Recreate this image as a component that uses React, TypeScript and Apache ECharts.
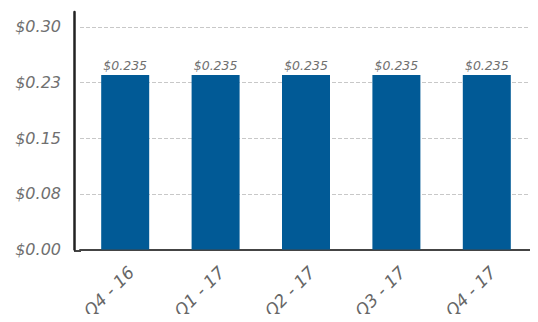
import React, { useEffect, useRef } from "react";
import * as echarts from "echarts";

const categories = ["Q4 - 16", "Q1 - 17", "Q2 - 17", "Q3 - 17", "Q4 - 17"];
const dividends = [0.235, 0.235, 0.235, 0.235, 0.235];
const yTickLabels = ["$0.00", "$0.08", "$0.15", "$0.23", "$0.30"];
const yInterval = 0.075;
const yMax = 0.32;

const FONT = "'DejaVu Sans', sans-serif";

export default function App() {
  const ref = useRef<HTMLDivElement>(null);
  useEffect(() => {
    if (!ref.current) return;
    const chart = echarts.init(ref.current, null, { renderer: "svg" });
    chart.setOption({
      animation: false,
      backgroundColor: "#ffffff",
      grid: { left: 80, right: 6, top: 12, bottom: 71 },
      xAxis: {
        type: "category",
        data: categories,
        axisLine: { show: true, lineStyle: { color: "#444", width: 2 } },
        axisTick: { show: false },
        axisLabel: {
          rotate: 45,
          margin: 14,
          verticalAlign: "top",
          color: "#666",
          fontSize: 17,
          fontStyle: "italic",
          fontFamily: FONT,
        },
      },
      yAxis: {
        type: "value",
        min: 0,
        max: yMax,
        interval: yInterval,
        offset: 6,
        axisLine: { show: true, lineStyle: { color: "#222", width: 2.5 } },
        axisTick: { show: false },
        splitLine: {
          show: true,
          showMinLine: false,
          showMaxLine: false,
          lineStyle: { color: "#c8c8c8", type: "dashed", width: 1 },
        },
        axisLabel: {
          showMaxLabel: false,
          margin: 13,
          color: "#707070",
          fontSize: 16,
          fontStyle: "italic",
          fontFamily: FONT,
          formatter: (v: number) => {
            const i = Math.round(v / yInterval);
            return Math.abs(v - i * yInterval) < 1e-6 ? yTickLabels[i] ?? "" : "";
          },
        },
      },
      graphic: [
        {
          type: "line",
          shape: { x1: 74, y1: 251, x2: 81, y2: 251 },
          style: { stroke: "#444", lineWidth: 2 },
        },
        {
          type: "line",
          shape: { x1: 531, y1: 251, x2: 536, y2: 251 },
          style: { stroke: "#444", lineWidth: 2 },
        },
      ],
      series: [
        {
          type: "bar",
          data: dividends,
          barWidth: 48,
          itemStyle: { color: "#015a96" },
          label: {
            show: true,
            position: "top",
            distance: 3,
            color: "#707070",
            fontSize: 12.5,
            fontStyle: "italic",
            fontFamily: FONT,
            formatter: (p: any) => "$" + p.value.toFixed(3),
          },
        },
      ],
    });
    return () => chart.dispose();
  }, []);
  return <div ref={ref} style={{ width: 538, height: 322, margin: -8 }} />;
}
